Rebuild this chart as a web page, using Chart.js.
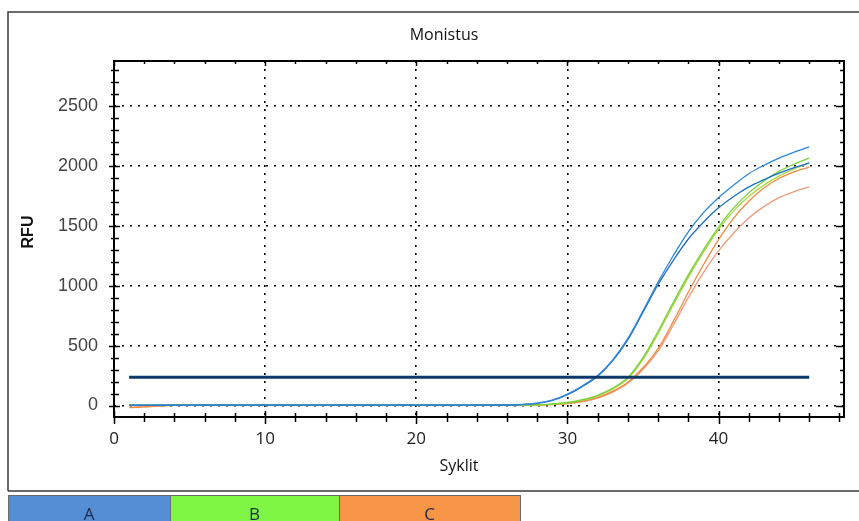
<!DOCTYPE html>
<html>
<head>
<meta charset="utf-8">
<title>Monistus</title>
<script src="https://cdn.jsdelivr.net/npm/chart.js@4/dist/chart.umd.min.js"></script>
<style>
  html, body { margin: 0; padding: 0; background: #fff; }
  #wrap { position: relative; width: 859px; height: 521px; overflow: hidden; }
  canvas { display: block; }
</style>
</head>
<body>
<div id="wrap"><canvas id="chart" width="859" height="521"></canvas></div>
<script>
// Amplification cycles
const cycles = [1,2,3,4,5,6,7,8,9,10,11,12,13,14,15,16,17,18,19,20,21,22,23,
  24,25,26,27,28,29,30,31,32,33,34,35,36,37,38,39,40,41,42,43,44,45,46];

// Sample A, two replicates (RFU per cycle)
const sampleA1 = [3,2,4,3,2,3,4,3,2,3,4,3,3,2,3,4,3,2,3,3,4,3,2,3,4,
  5,9,20,45,95,165,250,380,560,790,1030,1250,1450,1610,1735,1840,1935,2005,2065,2115,2160];
const sampleA2 = [2,3,3,2,3,4,3,2,3,4,3,2,3,3,4,3,2,3,4,3,3,2,3,4,3,
  4,8,18,42,90,160,245,375,550,780,1010,1210,1390,1530,1650,1745,1825,1885,1940,1985,2025];

// Sample B, two replicates
const sampleB1 = [1,2,3,4,6,5,4,3,2,3,4,3,4,5,4,3,2,3,4,5,4,3,2,2,3,
  3,4,6,12,25,48,85,145,235,400,620,860,1090,1300,1490,1650,1775,1875,1955,2015,2065];
const sampleB2 = [2,1,2,3,5,6,4,3,3,2,3,4,5,4,3,2,3,4,5,4,3,2,2,3,2,
  3,3,5,11,23,45,80,138,225,385,600,840,1070,1280,1470,1625,1745,1840,1915,1975,2025];

// Sample C, two replicates
const sampleC1 = [-18,-12,-4,1,2,3,2,3,2,3,2,3,2,3,2,3,2,3,2,3,2,2,1,2,2,
  2,3,4,9,18,35,68,120,195,315,475,700,945,1175,1385,1565,1705,1815,1895,1950,1990];
const sampleC2 = [-15,-10,-3,1,2,2,3,2,3,2,3,2,3,2,3,2,3,2,3,2,2,1,2,1,2,
  2,2,3,8,16,32,62,112,185,300,455,670,900,1110,1290,1440,1565,1660,1735,1785,1825];

// Detection threshold
const thresholdRFU = 235;
const thresholdSpan = [1, 46];

// Axis ticks and titles
const xTicks = [0, 10, 20, 30, 40];
const yTicks = [0, 500, 1000, 1500, 2000, 2500];
const xMinorStep = 2;
const yMinorStep = 100;
const chartTitle = 'Monistus';
const xTitle = 'Syklit';
const yTitle = 'RFU';

// Legend groups
const groupNames = ['A', 'B', 'C'];
const groupColors = ['#558ed5', '#7ef542', '#f79646'];

const toPoints = vals => vals.map((v, i) => ({ x: cycles[i], y: v }));

const curve = (label, vals, color) => ({
  label, data: toPoints(vals), borderColor: color, backgroundColor: color,
  borderWidth: 1.3, pointRadius: 0, tension: 0.35, fill: false, order: 2
});

// Frame, box, tick marks, titles and legend drawn around the plot
const decor = {
  id: 'decor',
  beforeDraw(chart) {
    const ctx = chart.ctx;
    ctx.save();
    ctx.fillStyle = '#fff';
    ctx.fillRect(0, 0, chart.width, chart.height);
    // outer panel frame
    ctx.strokeStyle = '#3a3a3a';
    ctx.lineWidth = 1.5;
    ctx.beginPath();
    ctx.moveTo(8, 491);
    ctx.lineTo(8, 12);
    ctx.lineTo(chart.width + 2, 12);
    ctx.moveTo(8, 491);
    ctx.lineTo(chart.width + 2, 491);
    ctx.stroke();
    ctx.restore();
  },
  afterDraw(chart) {
    const ctx = chart.ctx;
    const { left, right, top, bottom } = chart.chartArea;
    const xs = chart.scales.x, ys = chart.scales.y;
    ctx.save();
    // plot box
    ctx.strokeStyle = '#000';
    ctx.lineWidth = 2;
    ctx.strokeRect(left, top, right - left, bottom - top);

    ctx.lineWidth = 1.5;
    ctx.beginPath();
    // x ticks: bottom (crossing the axis) and top (inward)
    for (let v = 0; v <= xs.max + 1e-6; v += xMinorStep) {
      const px = Math.round(xs.getPixelForValue(v)) + 0.5;
      const major = v % 10 === 0;
      ctx.moveTo(px, bottom - (major ? 6 : 4));
      ctx.lineTo(px, bottom + (major ? 7 : 5));
      ctx.moveTo(px, top);
      ctx.lineTo(px, top + (major ? 5 : 3));
    }
    // y ticks: left (crossing the axis) and right (inward)
    for (let v = 0; v <= ys.max + 1e-6; v += yMinorStep) {
      const py = Math.round(ys.getPixelForValue(v)) + 0.5;
      const major = v % 500 === 0;
      ctx.moveTo(left - (major ? 5 : 3), py);
      ctx.lineTo(left + (major ? 6 : 5), py);
      ctx.moveTo(right, py);
      ctx.lineTo(right - (major ? 8 : 4), py);
    }
    ctx.stroke();

    // titles
    ctx.fillStyle = '#111';
    ctx.textAlign = 'center';
    ctx.textBaseline = 'middle';
    ctx.font = '16px "Open Sans", sans-serif';
    ctx.fillText(chartTitle, 444, 35);
    ctx.fillText(xTitle, 459, 466);
    ctx.save();
    ctx.translate(29, 232);
    ctx.rotate(-Math.PI / 2);
    ctx.font = 'bold 16px "Liberation Sans", Arial, sans-serif';
    ctx.fillText(yTitle, 0, 0);
    ctx.restore();

    // legend strip
    const edges = [8, 170, 339, 520];
    groupNames.forEach((name, i) => {
      const x0 = edges[i], x1 = edges[i + 1];
      ctx.fillStyle = groupColors[i];
      ctx.fillRect(x0, 495, x1 - x0, 30);
      ctx.strokeStyle = '#6a6a6a';
      ctx.lineWidth = 1;
      ctx.strokeRect(x0 + 0.5, 495.5, x1 - x0, 30);
      ctx.fillStyle = '#1c2a4a';
      ctx.textBaseline = 'alphabetic';
      ctx.font = '17px "Open Sans", sans-serif';
      ctx.fillText(name, (x0 + x1) / 2, 520);
    });
    ctx.restore();
  }
};

new Chart(document.getElementById('chart'), {
  type: 'line',
  data: {
    datasets: [
      {
        label: 'Kynnys',
        data: thresholdSpan.map(c => ({ x: c, y: thresholdRFU })),
        borderColor: '#0e3a6b', borderWidth: 3, pointRadius: 0, fill: false, order: 1
      },
      curve('A1', sampleA1, '#2f86d8'),
      curve('A2', sampleA2, '#1d6fc4'),
      curve('B1', sampleB1, '#78d23a'),
      curve('B2', sampleB2, '#a6d640'),
      curve('C1', sampleC1, '#f08a3e'),
      curve('C2', sampleC2, '#ee9a78')
    ]
  },
  options: {
    responsive: false,
    animation: false,
    devicePixelRatio: 1,
    layout: { padding: { left: 0, right: 15, top: 61, bottom: 64 } },
    plugins: { legend: { display: false }, title: { display: false }, tooltip: { enabled: false } },
    scales: {
      x: {
        type: 'linear', min: 0, max: 48.3,
        afterFit: s => { s.height = 40; },
        afterBuildTicks: s => { s.ticks = xTicks.map(v => ({ value: v })); },
        grid: { color: '#000', lineWidth: 1.6, drawTicks: false },
        border: { display: false, dash: [2, 6] },
        ticks: { padding: 12, color: '#222', font: { family: '"Open Sans", sans-serif', size: 17 }, maxRotation: 0,
                 callback: v => String(v) }
      },
      y: {
        type: 'linear', min: -96, max: 2876,
        afterFit: s => { s.width = 114; },
        afterBuildTicks: s => { s.ticks = yTicks.map(v => ({ value: v })); },
        grid: { color: '#000', lineWidth: 1.6, drawTicks: false },
        border: { display: false, dash: [2, 6] },
        ticks: { padding: 16, color: '#444', font: { family: '"Liberation Sans", Arial, sans-serif', size: 18 },
                 callback: v => String(v) }
      }
    }
  },
  plugins: [decor]
});
</script>
</body>
</html>
